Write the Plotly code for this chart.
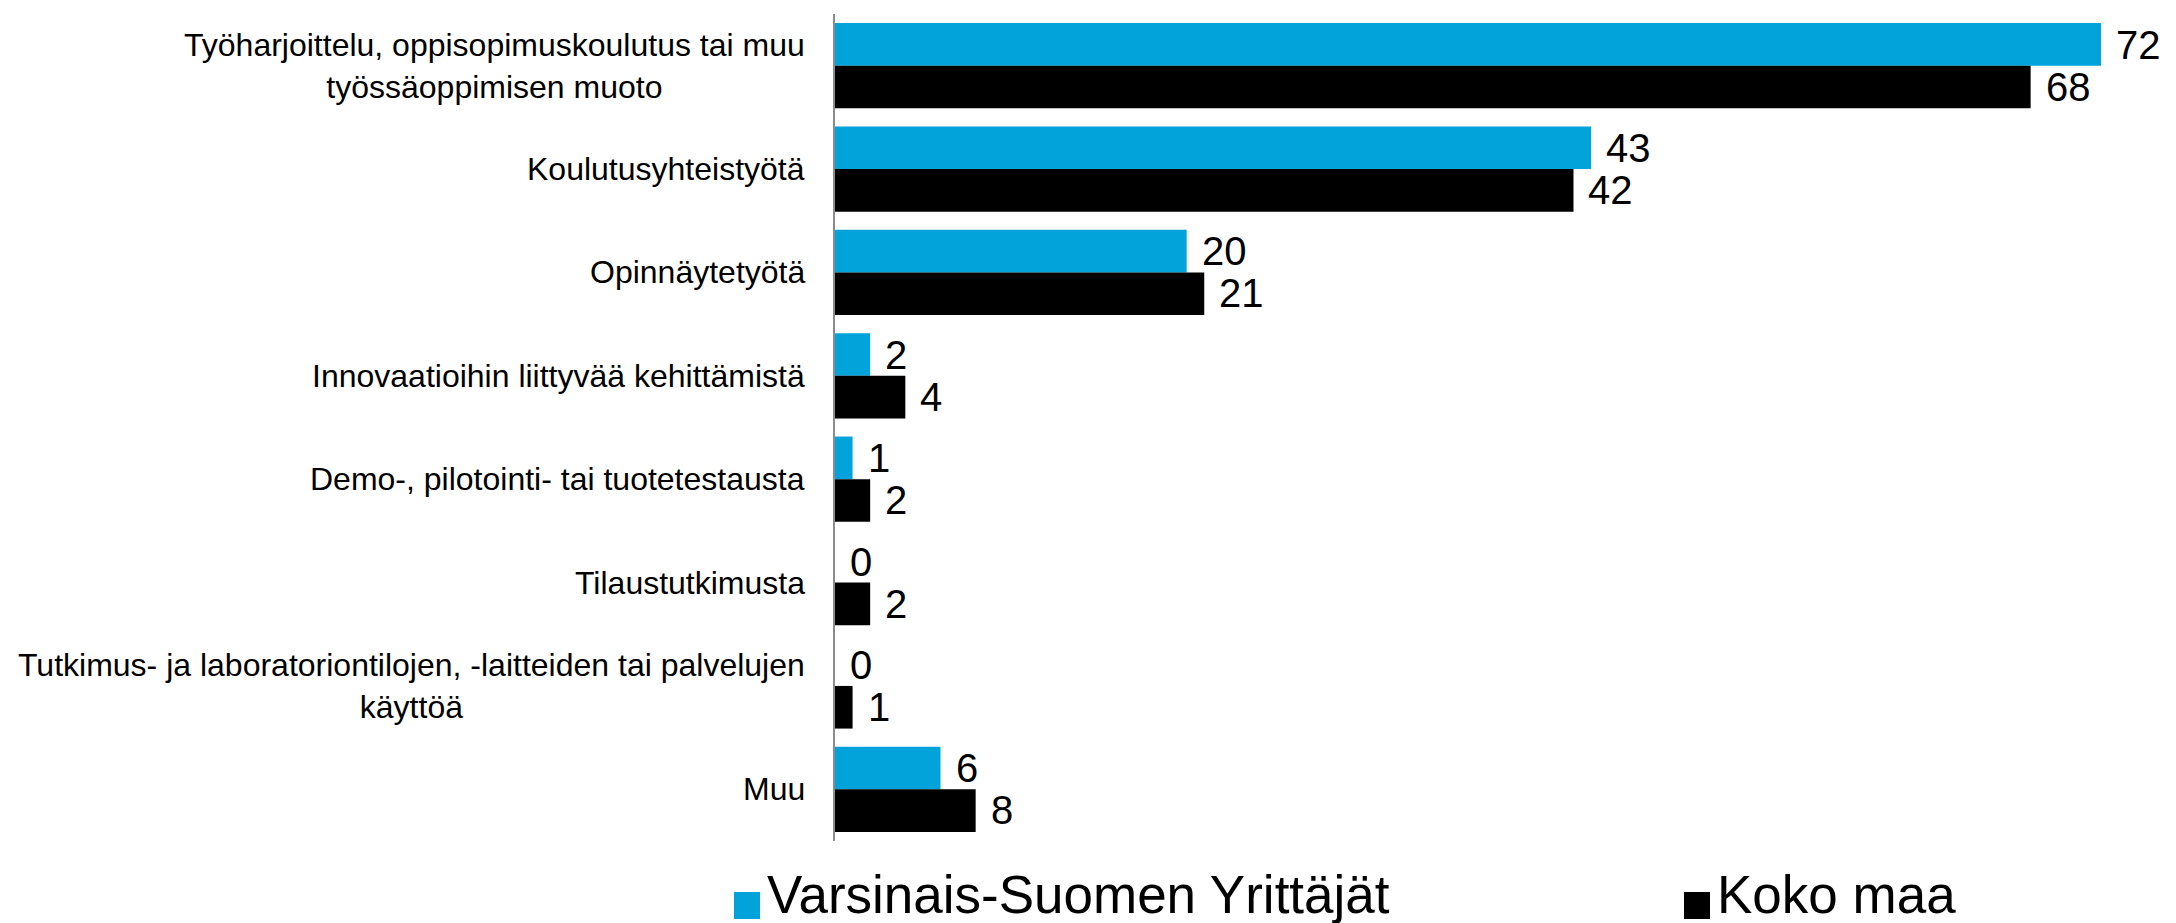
import plotly.graph_objects as go

categories = [
    "Työharjoittelu, oppisopimuskoulutus tai muu<br>työssäoppimisen muoto",
    "Koulutusyhteistyötä",
    "Opinnäytetyötä",
    "Innovaatioihin liittyvää kehittämistä",
    "Demo-, pilotointi- tai tuotetestausta",
    "Tilaustutkimusta",
    "Tutkimus- ja laboratoriontilojen, -laitteiden tai palvelujen<br>käyttöä",
    "Muu",
]
series_names = ["Varsinais-Suomen Yrittäjät", "Koko maa"]
vs_values = [72, 43, 20, 2, 1, 0, 0, 6]
koko_values = [68, 42, 21, 4, 2, 2, 1, 8]

BLUE = "#02A3DA"
BLACK = "#000000"
FONT = "Arial, Liberation Sans, sans-serif"

W, H = 2176, 923
ML, MR, MT, MB = 827, 25, 6, 90
PW, PH = W - ML - MR, H - MT - MB


def px_x(px):
    return (px - ML) / PW


def px_y(py):
    return (H - MB - py) / PH


fig = go.Figure()
fig.add_trace(go.Bar(y=categories, x=vs_values, name=series_names[0], orientation="h",
                     marker=dict(color=BLUE, line=dict(width=0)), showlegend=False))
fig.add_trace(go.Bar(y=categories, x=koko_values, name=series_names[1], orientation="h",
                     marker=dict(color=BLACK, line=dict(width=0)), showlegend=False))

annotations = []
# category labels
for c in categories:
    annotations.append(dict(x=0, xref="paper", y=c, yref="y", xanchor="right", yanchor="middle",
                            xshift=-28, text=c, showarrow=False, align="center",
                            font=dict(family=FONT, size=32, color="#000000")))
# value labels
for vals, ysh in ((vs_values, 21), (koko_values, -21)):
    for c, v in zip(categories, vals):
        annotations.append(dict(x=v, xref="x", y=c, yref="y", xanchor="left", yanchor="middle",
                                xshift=13, yshift=ysh, text=str(v), showarrow=False,
                                font=dict(family=FONT, size=40, color="#000000")))

# manual legend
shapes = []
legend_items = [(series_names[0], BLUE, 726), (series_names[1], BLACK, 1676)]
for name, col, x0 in legend_items:
    shapes.append(dict(type="rect", xref="paper", yref="paper",
                       x0=px_x(x0), x1=px_x(x0 + 26), y0=px_y(911), y1=px_y(884),
                       fillcolor=col, line=dict(width=0)))
    annotations.append(dict(x=px_x(x0 + 31), y=px_y(886), xref="paper", yref="paper",
                            xanchor="left", yanchor="middle", text=name, showarrow=False,
                            font=dict(family=FONT, size=53, color="#000000")))

fig.update_layout(
    width=W, height=H,
    margin=dict(l=ML, r=MR, t=MT, b=MB),
    paper_bgcolor="white", plot_bgcolor="white",
    barmode="group", bargap=0.175, bargroupgap=0,
    xaxis=dict(range=[0, 75.3], showgrid=False, zeroline=False, showticklabels=False,
               showline=False, ticks=""),
    yaxis=dict(autorange="reversed", showgrid=False, zeroline=False, showticklabels=False,
               showline=True, linecolor="#8c8c8c", linewidth=1.5, ticks=""),
    annotations=annotations,
    shapes=shapes,
    showlegend=False,
)

fig.write_html("out.html")
